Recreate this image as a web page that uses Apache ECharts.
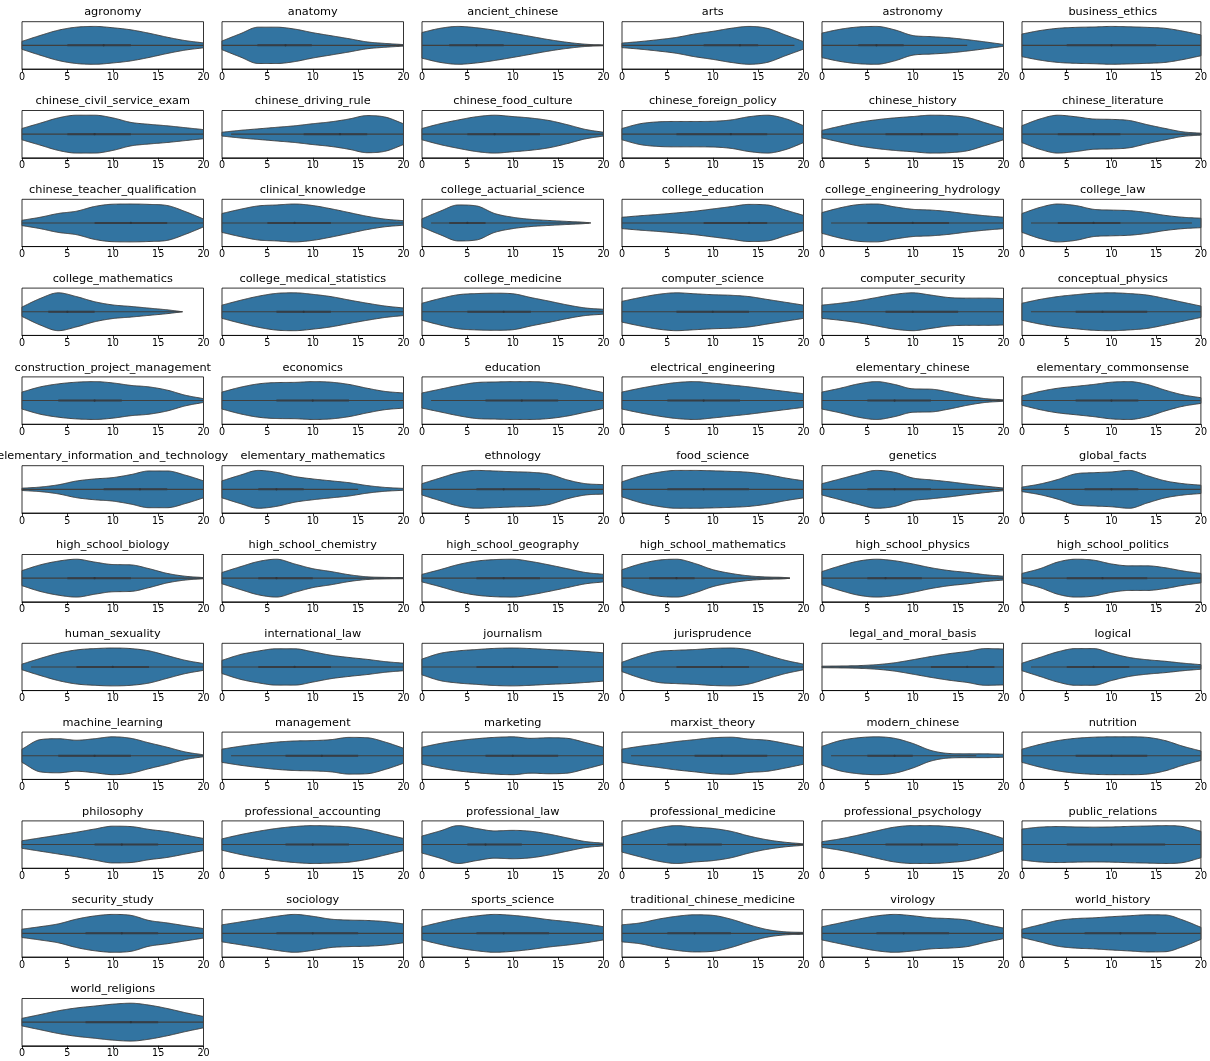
<!DOCTYPE html>
<html><head><meta charset="utf-8">
<script src="https://cdn.jsdelivr.net/npm/echarts@6/dist/echarts.min.js"></script>
<style>html,body{margin:0;padding:0;background:#fff}#c{width:1210px;height:1061px}</style>
</head><body><div id="c"></div><script>
const subjects = ["agronomy","anatomy","ancient_chinese","arts","astronomy","business_ethics",
"chinese_civil_service_exam","chinese_driving_rule","chinese_food_culture","chinese_foreign_policy","chinese_history","chinese_literature",
"chinese_teacher_qualification","clinical_knowledge","college_actuarial_science","college_education","college_engineering_hydrology","college_law",
"college_mathematics","college_medical_statistics","college_medicine","computer_science","computer_security","conceptual_physics",
"construction_project_management","economics","education","electrical_engineering","elementary_chinese","elementary_commonsense",
"elementary_information_and_technology","elementary_mathematics","ethnology","food_science","genetics","global_facts",
"high_school_biology","high_school_chemistry","high_school_geography","high_school_mathematics","high_school_physics","high_school_politics",
"human_sexuality","international_law","journalism","jurisprudence","legal_and_moral_basis","logical",
"machine_learning","management","marketing","marxist_theory","modern_chinese","nutrition",
"philosophy","professional_accounting","professional_law","professional_medicine","professional_psychology","public_relations",
"security_study","sociology","sports_science","traditional_chinese_medicine","virology","world_history",
"world_religions"];

// score positions at which the violin half-widths below were read
const sampleX = [0,2,4,6,8,10,12,14,16,18,20];
// relative half-width of each violin (1 = widest point) at sampleX
const violinWidths = [
[0.21,0.52,0.80,0.96,1.00,0.93,0.82,0.64,0.43,0.25,0.13],
[0.23,0.61,0.96,0.96,0.86,0.67,0.51,0.35,0.18,0.10,0.04],
[0.68,0.90,1.00,0.93,0.80,0.64,0.47,0.30,0.16,0.06,0.02],
[0.12,0.20,0.30,0.42,0.60,0.74,0.90,1.00,0.90,0.55,0.20],
[0.65,0.85,0.97,1.00,0.82,0.52,0.46,0.40,0.30,0.18,0.05],
[0.60,0.78,0.90,0.95,0.97,1.00,0.98,0.95,0.90,0.75,0.55],
[0.30,0.58,0.86,1.00,1.00,0.86,0.62,0.52,0.44,0.34,0.24],
[0.10,0.20,0.28,0.36,0.44,0.55,0.65,0.80,0.98,0.90,0.55],
[0.30,0.55,0.75,0.92,1.00,0.93,0.85,0.72,0.50,0.25,0.10],
[0.30,0.55,0.65,0.67,0.67,0.68,0.75,0.92,1.00,0.82,0.45],
[0.20,0.42,0.62,0.76,0.86,0.93,1.00,0.98,0.88,0.60,0.30],
[0.45,0.80,1.00,0.92,0.80,0.78,0.72,0.50,0.30,0.12,0.05],
[0.14,0.30,0.50,0.62,0.87,0.99,1.00,0.98,0.92,0.60,0.21],
[0.50,0.72,0.90,0.95,1.00,0.92,0.75,0.55,0.35,0.20,0.12],
[0.22,0.62,0.95,0.90,0.50,0.30,0.19,0.13,0.08,0.03,null],
[0.30,0.38,0.45,0.53,0.62,0.74,0.86,0.98,0.95,0.68,0.40],
[0.55,0.80,0.97,1.00,0.85,0.72,0.68,0.60,0.48,0.38,0.30],
[0.50,0.82,1.00,0.92,0.72,0.68,0.65,0.55,0.40,0.30,0.25],
[0.25,0.70,1.00,0.80,0.53,0.36,0.28,0.19,0.10,null,null],
[0.35,0.60,0.82,0.97,1.00,0.92,0.80,0.62,0.45,0.30,0.20],
[0.45,0.70,0.90,0.96,0.98,0.95,0.75,0.56,0.36,0.20,0.13],
[0.55,0.75,0.92,1.00,0.95,0.90,0.87,0.80,0.65,0.50,0.35],
[0.35,0.45,0.58,0.75,0.92,1.00,0.88,0.75,0.72,0.72,0.70],
[0.45,0.65,0.80,0.90,0.98,1.00,0.96,0.88,0.70,0.50,0.30],
[0.45,0.72,0.88,0.97,1.00,0.93,0.80,0.72,0.55,0.28,0.10],
[0.45,0.70,0.88,0.95,0.96,1.00,0.97,0.85,0.65,0.48,0.40],
[0.40,0.60,0.80,0.95,0.98,1.00,1.00,0.95,0.82,0.62,0.42],
[0.45,0.65,0.82,0.95,1.00,0.92,0.82,0.72,0.60,0.48,0.36],
[0.45,0.65,0.88,1.00,0.85,0.62,0.60,0.45,0.25,0.10,0.04],
[0.25,0.48,0.65,0.75,0.85,0.97,1.00,0.85,0.55,0.30,0.15],
[0.06,0.12,0.24,0.44,0.55,0.62,0.78,0.97,0.97,0.75,0.45],
[0.45,0.75,1.00,0.90,0.68,0.55,0.45,0.35,0.20,0.10,0.05],
[0.30,0.60,0.88,1.00,0.97,0.93,0.90,0.80,0.50,0.30,0.25],
[0.40,0.70,0.90,1.00,1.00,0.98,0.95,0.90,0.78,0.60,0.45],
[0.30,0.55,0.80,1.00,0.90,0.60,0.50,0.40,0.28,0.17,0.07],
[0.12,0.28,0.52,0.82,0.88,0.92,1.00,0.72,0.45,0.30,0.22],
[0.40,0.70,0.90,1.00,0.85,0.72,0.70,0.50,0.25,0.10,0.03],
[0.30,0.60,0.88,1.00,0.75,0.50,0.35,0.18,0.07,0.04,0.03],
[0.20,0.45,0.72,0.90,0.98,1.00,0.88,0.70,0.50,0.30,0.20],
[0.45,0.75,0.95,1.00,0.78,0.45,0.25,0.12,0.06,0.03,null],
[0.35,0.65,0.90,1.00,0.92,0.75,0.55,0.40,0.30,0.18,0.10],
[0.25,0.50,0.85,1.00,0.95,0.75,0.65,0.65,0.55,0.38,0.25],
[0.15,0.45,0.72,0.90,0.97,1.00,0.97,0.85,0.60,0.35,0.18],
[0.35,0.65,0.84,0.96,0.96,0.80,0.62,0.50,0.40,0.28,0.20],
[0.42,0.72,0.85,0.92,0.98,1.00,0.97,0.92,0.88,0.82,0.75],
[0.25,0.58,0.82,0.88,0.92,0.98,1.00,0.90,0.62,0.35,0.15],
[0.04,0.05,0.07,0.12,0.22,0.38,0.55,0.70,0.82,0.97,0.95],
[0.20,0.50,0.80,0.97,0.97,0.72,0.50,0.38,0.30,0.20,0.12],
[0.35,0.85,0.90,0.82,0.90,1.00,0.92,0.68,0.45,0.20,0.05],
[0.35,0.50,0.62,0.72,0.78,0.80,0.85,0.97,0.95,0.72,0.40],
[0.45,0.65,0.80,0.90,0.97,1.00,0.92,0.95,0.92,0.70,0.45],
[0.35,0.50,0.62,0.75,0.85,0.95,0.98,0.88,0.82,0.65,0.45],
[0.50,0.80,0.95,1.00,0.92,0.65,0.28,0.12,0.10,0.10,0.08],
[0.35,0.60,0.80,0.92,0.98,1.00,1.00,0.97,0.80,0.50,0.25],
[0.20,0.35,0.50,0.65,0.82,0.97,0.95,0.80,0.68,0.50,0.32],
[0.30,0.52,0.70,0.85,0.95,1.00,0.98,0.93,0.78,0.55,0.32],
[0.45,0.72,1.00,0.85,0.72,0.75,0.70,0.55,0.35,0.16,0.07],
[0.40,0.65,0.88,1.00,0.92,0.85,0.70,0.45,0.25,0.12,0.04],
[0.15,0.30,0.50,0.72,0.92,1.00,1.00,0.95,0.85,0.62,0.32],
[0.82,0.92,0.95,0.93,0.92,0.93,0.96,0.98,1.00,0.95,0.70],
[0.22,0.35,0.50,0.75,0.92,1.00,0.95,0.68,0.55,0.40,0.25],
[0.45,0.60,0.75,0.90,1.00,0.90,0.75,0.70,0.68,0.62,0.50],
[0.35,0.58,0.78,0.92,1.00,0.95,0.85,0.72,0.62,0.50,0.35],
[0.45,0.55,0.75,0.90,0.98,0.95,0.75,0.45,0.20,0.08,0.05],
[0.35,0.55,0.75,0.92,1.00,0.93,0.82,0.78,0.70,0.48,0.28],
[0.22,0.45,0.68,0.78,0.82,0.88,0.93,0.98,0.97,0.70,0.32],
[0.20,0.40,0.60,0.75,0.85,0.95,1.00,0.90,0.72,0.50,0.30]
];
// where a violin's density ends inside the axis range (null = runs past 20)
const supportEnd = subjects.map(()=>null);
supportEnd[14] = 18.6; supportEnd[18] = 17.7; supportEnd[39] = 18.5;

const whiskerLow  = [0,0,0,0,0,0, 0,1,0,0,0,0, 0,0,1,0,1,1, 0,0,0,0,0,1, 0,0,1,0,0,0, 0,0,0,0,0,0, 0,0,0,0,0,0, 1,0,0,0,0,1, 0,1,0,1,1,0, 0,0,0,0,0,0, 0,0,0,0,0,0, 0];
const quart1      = [5,3.9,3,9,4,5, 5,9,5,6,7,4, 8,5,3,9,5,4, 2.9,6,5,6,7,6, 4,6,7,5,5,6, 9,4,6,5,5,7, 5,4,6,3,5,5, 6,4,6,6,12,5, 4,7,7,8,5,6, 8,7,5,5,7,5, 7,6,6,5,6,7, 7];
const medians     = [9,7,6,13,6,10, 8,13,8,12,11,8, 12,8,5,14,10,8, 5,9,9,10,10,9, 8,10,11,9,8,10, 13,6,9,9,8,10, 8,6,9,6,7,9, 10,8,10,11,16,8, 8,11,10,11,8,10, 11,10,7,7,11,10, 11,10,9,8,9,11, 12];
const quart3      = [12,9.9,9,15,9,15, 12,16,13,16,15,11, 16,12,7,16,14,11, 8,12,12,14,15,14, 11,14,15,13,12,13, 16,9,13,14,12,13, 12,10,13,8,11,14, 14,12,15,14,19,12, 12,15,15,16,10,14, 15,14,11,11,15,16, 15,15,14,12,14,15, 15];
const whiskerHigh = [20,20,20,19,16,20, 20,20,20,20,20,20, 20,20,18.4,20,20,19, 17.6,20,20,20,20,20, 20,20,20,20,20,20, 20,15,20,20,20,20, 20,20,20,18.5,20,20, 20,20,20,20,20,20, 20,20,20,20,17,20, 20,20,20,20,20,20, 20,20,20,20,20,20, 20];

const xTicks = [0,5,10,15,20];

// ---------- layout ----------
const COLS = 6, X0 = 22, DX = 200, GW = 181.5, Y0 = 21.7, DY = 88.8, GH = 47.3;
const FONT = 'DejaVu Sans';
const FILL = '#3274a1', EDGE = '#3f3f3f', INNER = '#363d44';

function monotoneFn(pts){
  const n = pts.length, xs = pts.map(p=>p[0]), ys = pts.map(p=>p[1]);
  const d = [], m = new Array(n);
  for (let k=0;k<n-1;k++) d.push((ys[k+1]-ys[k])/(xs[k+1]-xs[k]));
  m[0] = d[0]; m[n-1] = d[n-2];
  for (let k=1;k<n-1;k++) m[k] = (d[k-1]*d[k] <= 0) ? 0 : (d[k-1]+d[k])/2;
  for (let k=0;k<n-1;k++){
    if (d[k] === 0){ m[k]=0; m[k+1]=0; continue; }
    const a = m[k]/d[k], b = m[k+1]/d[k], s = a*a+b*b;
    if (s > 9){ const t = 3/Math.sqrt(s); m[k]=t*a*d[k]; m[k+1]=t*b*d[k]; }
  }
  return function(x){
    let k = 0; while (k < n-2 && x > xs[k+1]) k++;
    const h = xs[k+1]-xs[k], t = (x-xs[k])/h, t2=t*t, t3=t2*t;
    return (2*t3-3*t2+1)*ys[k] + (t3-2*t2+t)*h*m[k] + (-2*t3+3*t2)*ys[k+1] + (t3-t2)*h*m[k+1];
  };
}

function makeRender(i){
  const pts = [];
  violinWidths[i].forEach((v,k)=>{ if (v !== null) pts.push([sampleX[k], v]); });
  if (supportEnd[i] !== null) pts.push([supportEnd[i], 0]);
  const f = monotoneFn(pts);
  const xEnd = Math.min(pts[pts.length-1][0], 20);
  return function(params, api){
    const top = [], bot = [];
    const step = 0.1;
    let x = 0;
    for (; x < xEnd - 1e-9; x += step){
      const w = Math.max(0, f(x)) * 0.4;
      top.push(api.coord([x, w])); bot.push(api.coord([x, -w]));
    }
    const wE = Math.max(0, f(xEnd))*0.4;
    top.push(api.coord([xEnd, wE])); bot.push(api.coord([xEnd, -wE]));
    const poly = top.concat(bot.reverse());
    const a = api.coord([whiskerLow[i],0]), b = api.coord([whiskerHigh[i],0]);
    const c = api.coord([quart1[i],0]), d = api.coord([quart3[i],0]);
    const m = api.coord([medians[i],0]);
    return {type:'group', children:[
      {type:'polygon', shape:{points:poly}, style:{fill:FILL, stroke:EDGE, lineWidth:1}},
      {type:'line', shape:{x1:a[0],y1:a[1],x2:b[0],y2:b[1]}, style:{stroke:EDGE, lineWidth:1.1}},
      {type:'line', shape:{x1:c[0],y1:c[1],x2:d[0],y2:d[1]}, style:{stroke:INNER, lineWidth:2}},
      {type:'circle', shape:{cx:m[0], cy:m[1], r:1.1}, style:{fill:'#2f3338', stroke:null}}
    ]};
  };
}

const grids = [], xAxes = [], yAxes = [], titles = [], series = [];
subjects.forEach((name, i)=>{
  const col = i % COLS, row = Math.floor(i / COLS);
  const left = X0 + col*DX, top = Y0 + row*DY;
  grids.push({left:left, top:top, width:GW, height:GH, show:true, borderColor:'#000', borderWidth:0.8, containLabel:false});
  xAxes.push({gridIndex:i, type:'value', min:xTicks[0], max:xTicks[xTicks.length-1], interval:xTicks[1]-xTicks[0],
    axisLine:{show:true, onZero:false, lineStyle:{color:'#000', width:0.8}},
    axisTick:{show:true, length:3.5, lineStyle:{color:'#000', width:0.8}},
    axisLabel:{show:true, fontSize:9.6, color:'#000', margin:3, fontFamily:FONT, showMinLabel:true, showMaxLabel:true},
    splitLine:{show:false}});
  yAxes.push({gridIndex:i, type:'value', min:-0.5, max:0.5, show:false});
  titles.push({text:name, left:left + GW/2, top:top - 14.8, textAlign:'center', padding:0,
    textStyle:{fontSize:11.3, fontWeight:'normal', color:'#000', fontFamily:FONT}});
  series.push({type:'custom', xAxisIndex:i, yAxisIndex:i, data:[[0,0]], renderItem:makeRender(i), silent:true, clip:false});
});

const chart = echarts.init(document.getElementById('c'), null, {renderer:'canvas'});
chart.setOption({animation:false, backgroundColor:'#fff', title:titles, grid:grids, xAxis:xAxes, yAxis:yAxes, series:series});
</script></body></html>
